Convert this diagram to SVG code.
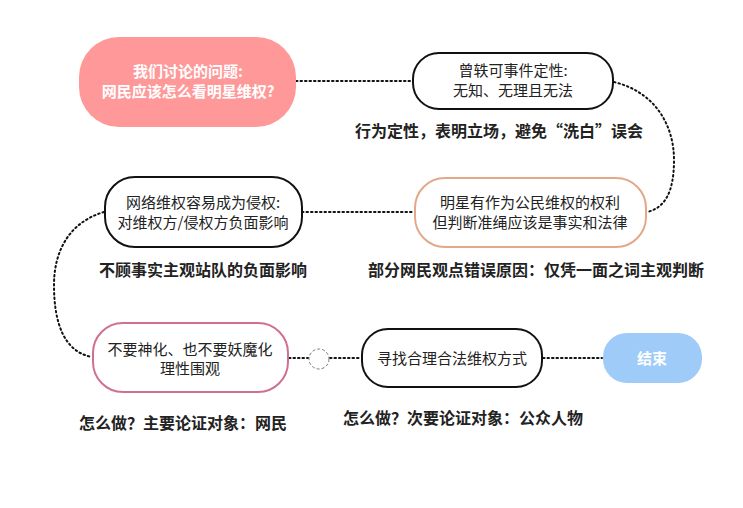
<svg xmlns="http://www.w3.org/2000/svg" width="743" height="508" viewBox="0 0 743 508">
<style>
text{font-family:"Noto Sans CJK SC","Liberation Sans",sans-serif;font-size:15px;fill:#222;text-anchor:middle}
.w{fill:#fff;font-weight:bold}
.lbl{font-weight:bold;font-size:16px;fill:#222}
.c{fill:none;stroke:#111;stroke-width:2;stroke-dasharray:1.5 3;stroke-linecap:round}
</style>
<rect width="743" height="508" fill="#fff"/>
<g id="connectors">
<path class="c" d="M296,81 H412"/>
<path class="c" d="M614,82 C655,92 674,125 674,160 C674,192 665,208 647,212"/>
<path class="c" d="M302,212 H414"/>
<path class="c" d="M104,212 C70,222 54,250 54,285 C54,325 65,352 92,357"/>
<path class="c" d="M289,358 H308"/>
<path class="c" d="M330,358 H361"/>
<path class="c" d="M543,358 H602"/>
</g>
<g id="n1">
<rect x="79" y="37" width="217" height="90" rx="40" fill="#FF9999"/>
<text class="w" x="188" y="77">我们讨论的问题:</text>
<text class="w" x="188" y="97">网民应该怎么看明星维权?</text>
</g>
<g id="n2">
<rect x="413" y="53" width="200" height="56" rx="26" fill="#fff" stroke="#111" stroke-width="2"/>
<text x="513" y="76">曾轶可事件定性:</text>
<text x="513" y="96">无知、无理且无法</text>
</g>
<text class="lbl" x="499" y="137">行为定性，表明立场，避免“洗白”误会</text>
<g id="n3">
<rect x="415" y="178" width="231" height="69" rx="30" fill="#fff" stroke="#E3A88A" stroke-width="2"/>
<text x="530" y="208">明星有作为公民维权的权利</text>
<text x="530" y="228">但判断准绳应该是事实和法律</text>
</g>
<text class="lbl" x="536" y="276">部分网民观点错误原因：仅凭一面之词主观判断</text>
<g id="n4">
<rect x="105" y="177" width="197" height="70" rx="30" fill="#fff" stroke="#111" stroke-width="2"/>
<text x="203" y="208">网络维权容易成为侵权:</text>
<text x="203" y="228">对维权方/侵权方负面影响</text>
</g>
<text class="lbl" x="203" y="276">不顾事实主观站队的负面影响</text>
<g id="n5">
<rect x="93" y="323" width="195" height="69" rx="30" fill="#fff" stroke="#D0708F" stroke-width="2"/>
<text x="190" y="355">不要神化、也不要妖魔化</text>
<text x="190" y="374">理性围观</text>
</g>
<g id="n6">
<circle cx="319" cy="359" r="10" fill="#fff" stroke="#777" stroke-width="1" stroke-dasharray="3 2"/>
</g>
<g id="n7">
<rect x="362" y="329" width="180" height="58" rx="26" fill="#fff" stroke="#111" stroke-width="2"/>
<text x="452" y="364">寻找合理合法维权方式</text>
</g>
<g id="n8">
<rect x="603" y="333" width="99" height="50" rx="24" fill="#9ECBF8"/>
<text class="w" x="652" y="364">结束</text>
</g>
<text class="lbl" x="183" y="429">怎么做？主要论证对象：网民</text>
<text class="lbl" x="463" y="424">怎么做？次要论证对象：公众人物</text>
</svg>
